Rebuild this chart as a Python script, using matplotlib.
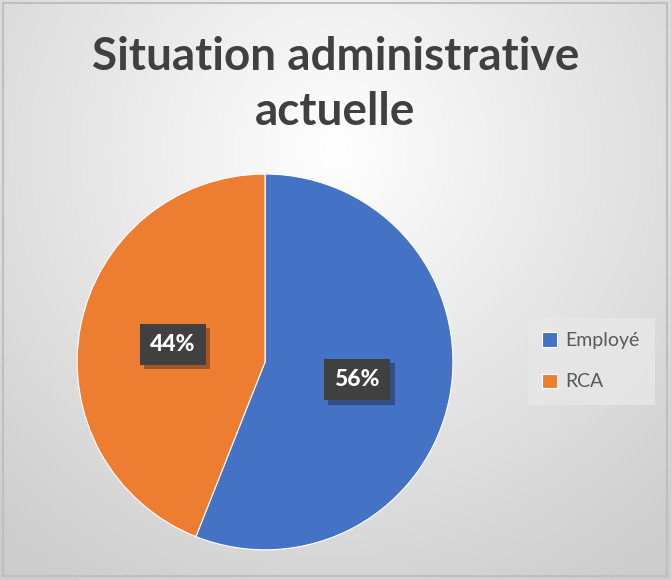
import numpy as np
import matplotlib.pyplot as plt
import matplotlib.patheffects as pe
from matplotlib.patches import Rectangle

# données
categories = ['Employé', 'RCA']
valeurs = [56, 44]
couleurs = ['#4472C4', '#ED7D31']
titre = ['Situation administrative', 'actuelle']

fig = plt.figure(figsize=(6.71, 5.80), dpi=100)

# fond en dégradé radial
bg = fig.add_axes([0, 0, 1, 1])
h, w = 580, 671
yy, xx = np.mgrid[0:h, 0:w]
d = np.sqrt(((xx - 335) / 520.0) ** 2 + ((yy - 150) / 520.0) ** 2)
g = np.clip(1.0 - 0.2 * d, 0.80, 1.0)
bg.imshow(np.dstack([g, g, g]), extent=[0, w, h, 0], aspect='auto')
bg.add_patch(Rectangle((3, 3), w - 7, h - 7, fill=False, edgecolor='#bfbfbf', lw=1.5))
bg.set_xlim(0, w)
bg.set_ylim(h, 0)
bg.axis('off')

# titre sur deux lignes
for ligne, yb in zip(titre, [0.879, 0.784]):
    fig.text(0.5, yb, ligne, ha='center', va='baseline', fontsize=33, fontweight='bold',
             color='#404040', family='Lato')

# camembert
ax = fig.add_axes([0.395 - 0.280, 0.376 - 0.324, 0.560, 0.648])
wedges, texts, autotexts = ax.pie(valeurs, colors=couleurs, startangle=90, counterclock=False,
                                  autopct='%1.0f%%', pctdistance=0.5,
                                  wedgeprops=dict(edgecolor='white', linewidth=0.8))
for t in autotexts:
    t.set_color('white')
    t.set_fontweight('black')
    t.set_fontsize(16.5)
    t.set_family('Lato')
    t.set_bbox(dict(boxstyle='square,pad=0.45', facecolor='#404040', edgecolor='none'))
    t.get_bbox_patch().set_path_effects([pe.SimplePatchShadow(offset=(3, -3), alpha=0.35), pe.Normal()])
ax.set_xlim(-1, 1)
ax.set_ylim(-1, 1)
ax.set_aspect('equal')

leg = fig.legend(wedges, categories, loc='center', bbox_to_anchor=(0.881, 0.377),
                 frameon=True, fancybox=False, handlelength=0.75, handleheight=0.75,
                 labelspacing=1.25, borderpad=0.75, handletextpad=0.45, borderaxespad=0,
                 prop={'family': 'Lato', 'size': 14})
leg.get_frame().set_facecolor('#e8e8e8')
leg.get_frame().set_edgecolor('none')
for t in leg.get_texts():
    t.set_color('#595959')

fig.savefig('out.png', dpi=100)
